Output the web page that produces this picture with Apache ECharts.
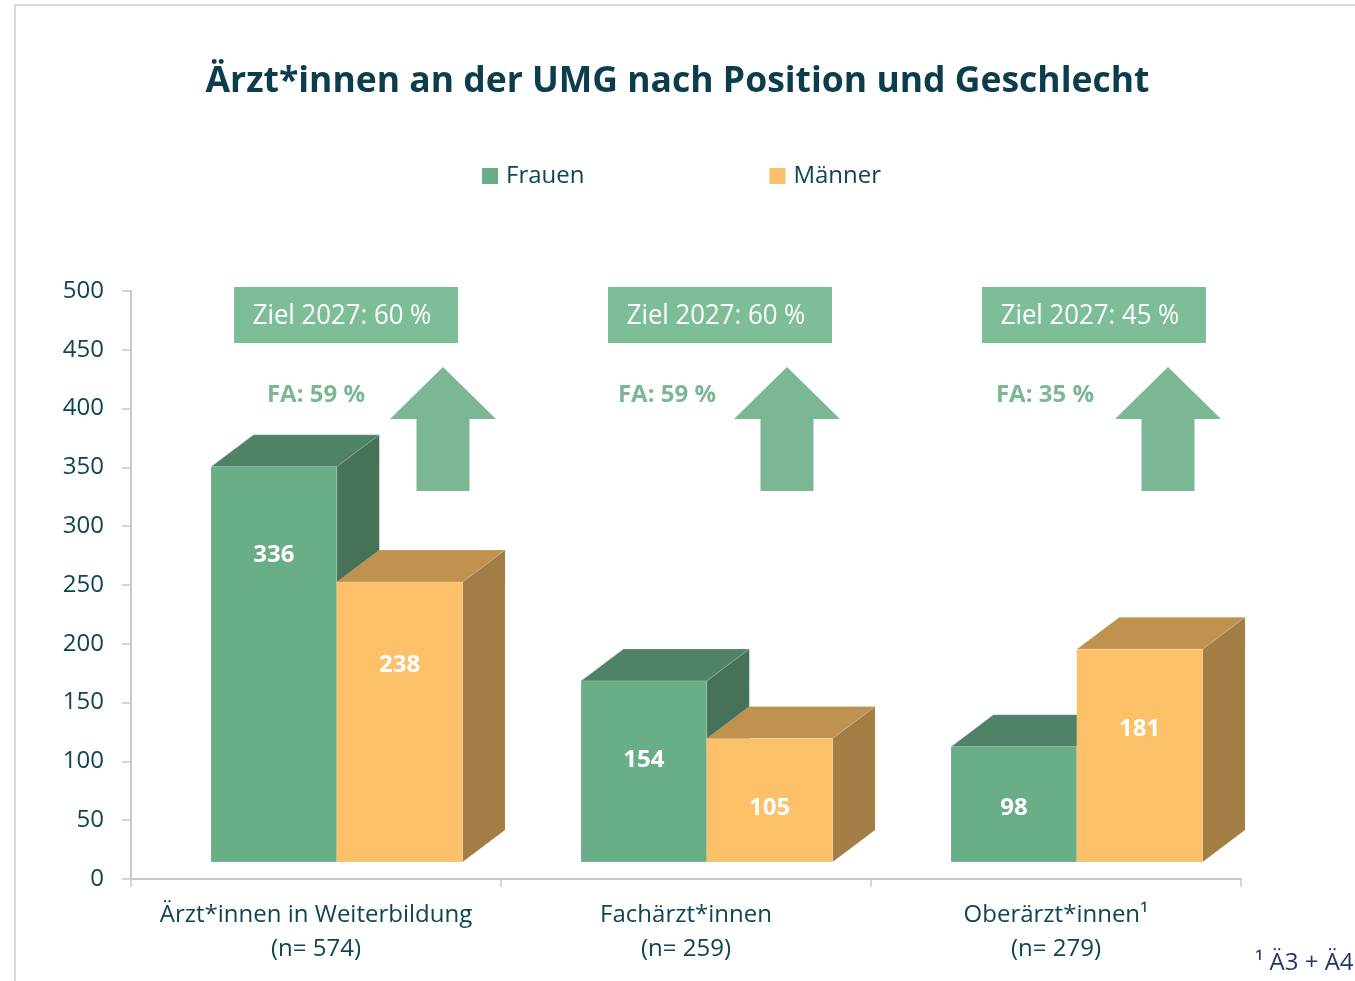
<!DOCTYPE html>
<html>
<head>
<meta charset="utf-8">
<script src="https://cdn.jsdelivr.net/npm/echarts@6/dist/echarts.min.js"></script>
<style>
  html, body { margin: 0; padding: 0; background: #ffffff; }
  #chart { width: 1355px; height: 981px; }
</style>
</head>
<body>
<div id="chart"></div>
<script>
// Data
const categories = [
  'Ärzt*innen in Weiterbildung\n(n= 574)',
  'Fachärzt*innen\n(n= 259)',
  'Oberärzt*innen¹\n(n= 279)'
];
const frauen = [336, 154, 98];
const maenner = [238, 105, 181];
const zielLabels = ['Ziel 2027: 60 %', 'Ziel 2027: 60 %', 'Ziel 2027: 45 %'];
const faLabels = ['FA: 59 %', 'FA: 59 %', 'FA: 35 %'];
const yMin = 0, yMax = 500, yStep = 50;

// Styling
const FONT = '"Open Sans", "Noto Sans", sans-serif';
const TEXT = '#0E4453';
const GREEN = { front: '#6AAE88', top: '#508268', side: '#457258' };
const ORANGE = { front: '#FBC068', top: '#C09250', side: '#A27D44' };
const ACCENT = '#7BB794';

// Pseudo-3D box geometry (pixels)
const LIFT = 17;     // front face sits above the axis baseline
const DEPTH_X = 42.5;
const DEPTH_Y = 32;

// Annotation layout (pixels)
const boxLeft = [234, 608, 982];
const faCenter = [316, 667, 1045];
const arrowCenter = [443, 787, 1168];

function boxRenderer(slot, pal) {
  return function (params, api) {
    const cat = api.value(0);
    const v = api.value(1);
    const base = api.coord([cat, 0]);
    const top = api.coord([cat, v]);
    const bw = api.size([1, 0])[0];
    const barW = bw * 0.34;
    const x0 = base[0] - bw * 0.2838 + slot * barW;
    const x1 = x0 + barW;
    const yB = base[1] - LIFT;
    const yT = top[1] - LIFT;
    const h = yB - yT;
    const labelY = Math.min(yT + 71.5 + 0.042 * h, yB - 54);
    const edge = { stroke: 'rgba(255,255,255,0.18)', lineWidth: 0.8 };
    return {
      type: 'group',
      children: [
        { type: 'polygon', shape: { points: [[x0, yT], [x1, yT], [x1 + DEPTH_X, yT - DEPTH_Y], [x0 + DEPTH_X, yT - DEPTH_Y]] },
          style: Object.assign({ fill: pal.top }, edge) },
        { type: 'polygon', shape: { points: [[x1, yT], [x1 + DEPTH_X, yT - DEPTH_Y], [x1 + DEPTH_X, yB - DEPTH_Y], [x1, yB]] },
          style: Object.assign({ fill: pal.side }, edge) },
        { type: 'rect', shape: { x: x0, y: yT, width: barW, height: h },
          style: Object.assign({ fill: pal.front }, edge) },
        { type: 'text', x: (x0 + x1) / 2, y: labelY,
          style: { text: String(v), fill: '#ffffff', font: 'bold 24px ' + FONT, align: 'center', verticalAlign: 'middle' } }
      ]
    };
  };
}

const graphics = [
  // outer frame
  { type: 'polyline', shape: { points: [[15, 981], [15, 5], [1355, 5]] }, style: { stroke: '#D9D9D9', lineWidth: 2, fill: null } },
  { type: 'text', x: 677.5, y: 82, style: { text: 'Ärzt*innen an der UMG nach Position und Geschlecht', fill: '#0B3D4C', font: 'bold 35.5px ' + FONT, align: 'center', verticalAlign: 'middle' } },
  { type: 'text', x: 1255, y: 963, style: { text: '¹ Ä3 + Ä4', fill: '#203864', font: '24px ' + FONT, align: 'left', verticalAlign: 'middle' } }
];

for (let i = 0; i < categories.length; i++) {
  const bx = boxLeft[i];
  graphics.push({ type: 'rect', shape: { x: bx, y: 287, width: 224, height: 56 }, style: { fill: '#7DBE99' } });
  graphics.push({ type: 'text', x: bx + 108, y: 316, scaleX: 0.92,
    style: { text: zielLabels[i], fill: '#ffffff', font: '28px ' + FONT, align: 'center', verticalAlign: 'middle' } });
  graphics.push({ type: 'text', x: faCenter[i], y: 395,
    style: { text: faLabels[i], fill: ACCENT, font: 'bold 24px ' + FONT, align: 'center', verticalAlign: 'middle' } });
  const c = arrowCenter[i];
  graphics.push({ type: 'polygon', shape: { points: [
    [c, 367], [c + 53, 419], [c + 26.5, 419], [c + 26.5, 491], [c - 26.5, 491], [c - 26.5, 419], [c - 53, 419]
  ] }, style: { fill: ACCENT } });
}

const chart = echarts.init(document.getElementById('chart'), null, { renderer: 'canvas' });
chart.setOption({
  backgroundColor: '#ffffff',
  animation: false,
  grid: { left: 131, right: 114, top: 291, bottom: 102, containLabel: false },
  legend: {
    data: ['Frauen', 'Männer'],
    left: 482, top: 164, padding: 0,
    icon: 'rect', itemWidth: 16, itemHeight: 16, itemGap: 185,
    textStyle: { fontFamily: FONT, fontSize: 24, color: TEXT, lineHeight: 24, padding: [0, 0, 0, 3] }
  },
  xAxis: {
    type: 'category',
    data: categories,
    axisLine: { lineStyle: { color: '#C8C8C8', width: 2 } },
    axisTick: { show: true, length: 8, lineStyle: { color: '#C8C8C8', width: 1.5 } },
    axisLabel: { fontFamily: FONT, fontSize: 24, color: TEXT, lineHeight: 34, margin: 19, interval: 0 },
    splitLine: { show: false }
  },
  yAxis: {
    type: 'value',
    min: yMin, max: yMax, interval: yStep,
    axisLine: { show: true, lineStyle: { color: '#C8C8C8', width: 2 } },
    axisTick: { show: true, length: 9, lineStyle: { color: '#C8C8C8', width: 1.5 } },
    axisLabel: { fontFamily: FONT, fontSize: 24, color: TEXT, margin: 27 },
    splitLine: { show: false }
  },
  series: [
    { name: 'Frauen', type: 'custom', itemStyle: { color: GREEN.front }, clip: false,
      encode: { x: 0, y: 1 },
      data: frauen.map((v, i) => [i, v]),
      renderItem: boxRenderer(0, GREEN) },
    { name: 'Männer', type: 'custom', itemStyle: { color: ORANGE.front }, clip: false,
      encode: { x: 0, y: 1 },
      data: maenner.map((v, i) => [i, v]),
      renderItem: boxRenderer(1, ORANGE) }
  ],
  graphic: graphics
});
</script>
</body>
</html>
